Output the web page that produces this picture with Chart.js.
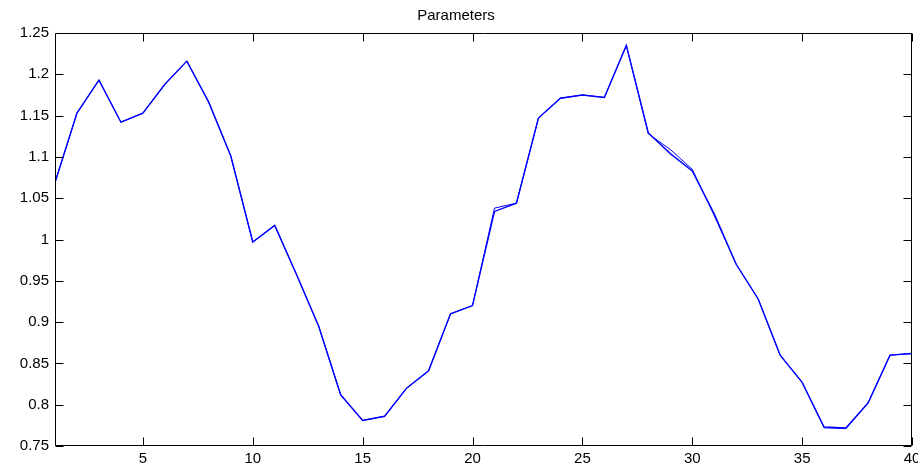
<!DOCTYPE html>
<html>
<head>
<meta charset="utf-8">
<script src="https://cdn.jsdelivr.net/npm/chart.js@4.4.0/dist/chart.umd.min.js"></script>
<style>
html,body{margin:0;padding:0;background:#fff;}
#wrap{width:918px;height:468px;position:relative;}
</style>
</head>
<body>
<div id="wrap"><canvas id="c" width="918" height="468"></canvas></div>
<script>
const titleText = "Parameters";
const xValues = [1,2,3,4,5,6,7,8,9,10,11,12,13,14,15,16,17,18,19,20,21,22,23,24,25,26,27,28,29,30,31,32,33,34,35,36,37,38,39,40];
const seriesA = [1.069,1.153,1.193,1.142,1.153,1.188,1.216,1.166,1.101,0.997,1.017,0.957,0.895,0.812,0.781,0.786,0.820,0.841,0.910,0.920,1.034,1.044,1.147,1.171,1.175,1.172,1.235,1.129,1.104,1.083,1.031,0.970,0.928,0.860,0.827,0.773,0.772,0.802,0.860,0.862];
const seriesB = [1.069,1.153,1.193,1.142,1.153,1.188,1.216,1.166,1.101,0.997,1.017,0.957,0.895,0.812,0.781,0.786,0.820,0.841,0.910,0.920,1.038,1.044,1.147,1.171,1.175,1.172,1.235,1.128,1.109,1.085,1.029,0.970,0.928,0.860,0.827,0.772,0.771,0.802,0.860,0.862];
const xTicks = [5,10,15,20,25,30,35,40];
const yTicks = [0.75,0.8,0.85,0.9,0.95,1,1.05,1.1,1.15,1.2,1.25];
const yMin = 0.75, yMax = 1.25;

const toPts = arr => xValues.map((x,i)=>({x:x,y:arr[i]}));
const FONT = 'Liberation Sans, Arial, sans-serif';

const boxTicks = {
  id:'boxTicks',
  afterDraw(chart){
    const ctx = chart.ctx, a = chart.chartArea;
    const xs = chart.scales.x, ys = chart.scales.y;
    const l = Math.round(a.left)+0.5, r = Math.round(a.right)-0.5;
    const t = Math.round(a.top)+0.5, b = Math.round(a.bottom)-0.5;
    ctx.save();
    ctx.strokeStyle = '#000000';
    ctx.fillStyle = '#000000';
    ctx.lineWidth = 1;
    ctx.beginPath();
    ctx.moveTo(l,t); ctx.lineTo(r,t); ctx.lineTo(r,b); ctx.lineTo(l,b); ctx.closePath();
    ctx.stroke();
    const L = 8;
    for (const v of xTicks) {
      const p = Math.round(xs.getPixelForValue(v));
      ctx.fillRect(p, b - L, 1, L);
      ctx.fillRect(p, t, 1, L);
    }
    for (const v of yTicks) {
      const p = Math.round(ys.getPixelForValue(v));
      ctx.fillRect(l, p, L, 1);
      ctx.fillRect(r - L, p, L, 1);
    }
    ctx.restore();
  }
};

new Chart(document.getElementById('c'), {
  type:'line',
  data:{
    datasets:[
      {data:toPts(seriesA), borderColor:'#0000ff', borderWidth:1.4, pointRadius:0, tension:0, fill:false},
      {data:toPts(seriesB), borderColor:'#0000ff', borderWidth:1.0, pointRadius:0, tension:0, fill:false}
    ]
  },
  options:{
    responsive:false,
    animation:false,
    layout:{padding:{left:0,right:6,top:0,bottom:0}},
    plugins:{
      legend:{display:false},
      tooltip:{enabled:false},
      title:{display:true,text:titleText,color:'#000',font:{family:FONT,size:15,weight:'normal'},padding:{top:7,bottom:8}}
    },
    scales:{
      x:{
        type:'linear', min:1, max:40,
        afterFit(s){ s.height = 22; s.paddingLeft = 0; s.paddingRight = 0; },
        afterBuildTicks(s){ s.ticks = xTicks.map(v=>({value:v})); },
        grid:{display:false,drawTicks:false},
        border:{display:false},
        ticks:{color:'#000',font:{family:FONT,size:15},padding:4,maxRotation:0,autoSkip:false,
          callback:v=>String(v)}
      },
      y:{
        min:yMin, max:yMax,
        afterFit(s){ s.width = 55; s.paddingTop = 0; s.paddingBottom = 0; },
        afterBuildTicks(s){ s.ticks = yTicks.map(v=>({value:v})); },
        grid:{display:false,drawTicks:false},
        border:{display:false},
        ticks:{color:'#000',font:{family:FONT,size:15},padding:6,autoSkip:false,
          callback:v=>String(parseFloat(Number(v).toFixed(2)))}
      }
    }
  },
  plugins:[boxTicks]
});
</script>
</body>
</html>
